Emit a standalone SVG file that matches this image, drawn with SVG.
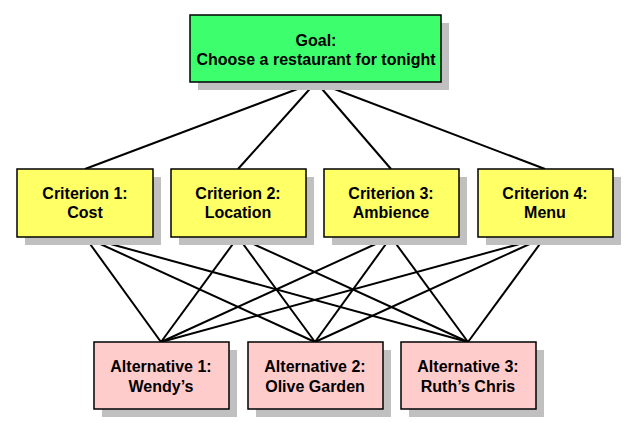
<svg xmlns="http://www.w3.org/2000/svg" width="639" height="434" viewBox="0 0 639 434">
<style>
.shadow{fill:#c0c0c0;stroke:none}
.box{stroke:#000;stroke-width:1.5}
.goal{fill:#3dff6e}
.crit{fill:#ffff66}
.alt{fill:#ffcccc}
text{font-family:"Liberation Sans",Arial,sans-serif;font-weight:bold;font-size:16px;text-anchor:middle;fill:#000}
.conn line{stroke:#000;stroke-width:2}
</style>
<rect width="639" height="434" fill="#fff"/>
<g id="connectors" class="conn">
<line x1="316" y1="82" x2="85" y2="169"/>
<line x1="316" y1="82" x2="238" y2="169"/>
<line x1="316" y1="82" x2="391" y2="169"/>
<line x1="316" y1="82" x2="545" y2="169"/>
<line x1="85" y1="237" x2="161" y2="342"/>
<line x1="85" y1="237" x2="315" y2="342"/>
<line x1="85" y1="237" x2="468" y2="342"/>
<line x1="238" y1="237" x2="161" y2="342"/>
<line x1="238" y1="237" x2="315" y2="342"/>
<line x1="238" y1="237" x2="468" y2="342"/>
<line x1="391" y1="237" x2="161" y2="342"/>
<line x1="391" y1="237" x2="315" y2="342"/>
<line x1="391" y1="237" x2="468" y2="342"/>
<line x1="545" y1="237" x2="161" y2="342"/>
<line x1="545" y1="237" x2="315" y2="342"/>
<line x1="545" y1="237" x2="468" y2="342"/>
</g>
<g id="goal">
<rect class="shadow" x="198" y="23" width="251" height="67"/>
<rect class="box goal" x="190" y="15" width="251" height="67"/>
<text x="316" y="46">Goal:</text>
<text x="316" y="65">Choose a restaurant for tonight</text>
</g>
<g id="crit1">
<rect class="shadow" x="25" y="177" width="136" height="68"/>
<rect class="box crit" x="17" y="169" width="136" height="68"/>
<text x="85" y="199">Criterion 1:</text>
<text x="85" y="218">Cost</text>
</g>
<g id="crit2">
<rect class="shadow" x="179" y="177" width="135" height="68"/>
<rect class="box crit" x="171" y="169" width="135" height="68"/>
<text x="238" y="199">Criterion 2:</text>
<text x="238" y="218">Location</text>
</g>
<g id="crit3">
<rect class="shadow" x="332" y="177" width="135" height="68"/>
<rect class="box crit" x="324" y="169" width="135" height="68"/>
<text x="391" y="199">Criterion 3:</text>
<text x="391" y="218">Ambience</text>
</g>
<g id="crit4">
<rect class="shadow" x="486" y="177" width="135" height="68"/>
<rect class="box crit" x="478" y="169" width="135" height="68"/>
<text x="545" y="199">Criterion 4:</text>
<text x="545" y="218">Menu</text>
</g>
<g id="alt1">
<rect class="shadow" x="102" y="350" width="135" height="67"/>
<rect class="box alt" x="94" y="342" width="135" height="67"/>
<text x="161" y="372">Alternative 1:</text>
<text x="161" y="392">Wendy’s</text>
</g>
<g id="alt2">
<rect class="shadow" x="256" y="350" width="135" height="67"/>
<rect class="box alt" x="248" y="342" width="135" height="67"/>
<text x="315" y="372">Alternative 2:</text>
<text x="315" y="392">Olive Garden</text>
</g>
<g id="alt3">
<rect class="shadow" x="409" y="350" width="135" height="67"/>
<rect class="box alt" x="401" y="342" width="135" height="67"/>
<text x="468" y="372">Alternative 3:</text>
<text x="468" y="392">Ruth’s Chris</text>
</g>
</svg>
